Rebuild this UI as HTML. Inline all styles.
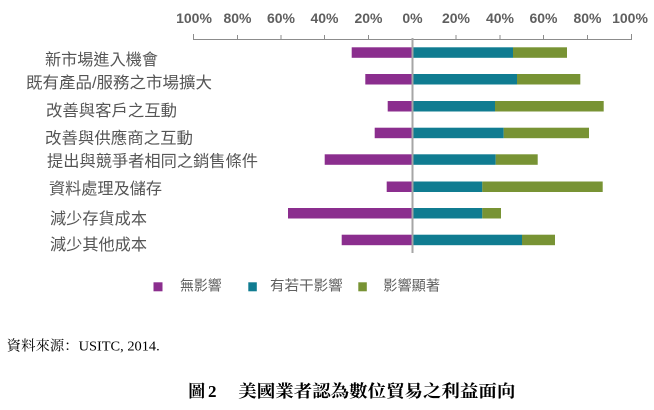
<!DOCTYPE html>
<html>
<head>
<meta charset="utf-8">
<style>
  html, body { margin: 0; padding: 0; background: #ffffff; }
  body { width: 654px; height: 410px; overflow: hidden; position: relative; }
  svg { position: absolute; left: 0; top: 0; }
  .tick { font-family: "Liberation Sans", "DejaVu Sans", sans-serif; font-size: 14px; font-weight: bold; fill: #5f5f5f; }
  .lab { font-family: "Liberation Sans", "Noto Sans CJK TC", "Noto Sans CJK JP", sans-serif; font-size: 16px; fill: #555555; }
  .leg { font-family: "Liberation Sans", "Noto Sans CJK TC", "Noto Sans CJK JP", sans-serif; font-size: 14px; fill: #606060; }
  .src { font-family: "Liberation Serif", "Noto Serif CJK SC", serif; font-size: 14px; fill: #000000; }
  .ttl { font-family: "Liberation Serif", "Noto Serif CJK SC", serif; font-size: 17px; font-weight: bold; fill: #000000; }
</style>
</head>
<body>
<svg width="654" height="410" viewBox="0 0 654 410" xmlns="http://www.w3.org/2000/svg">
  <!-- tick labels -->
  <g class="tick" text-anchor="middle">
    <text x="194" y="23">100%</text>
    <text x="237.5" y="23">80%</text>
    <text x="281" y="23">60%</text>
    <text x="324.5" y="23">40%</text>
    <text x="368.5" y="23">20%</text>
    <text x="412.5" y="23">0%</text>
    <text x="456" y="23">20%</text>
    <text x="500" y="23">40%</text>
    <text x="543.5" y="23">60%</text>
    <text x="587.5" y="23">80%</text>
    <text x="630" y="23">100%</text>
  </g>

  <!-- axis -->
  <g stroke="#8c8c8c" stroke-width="1" fill="none">
    <line x1="193" y1="39.5" x2="632" y2="39.5"/>
    <line x1="193.5" y1="34" x2="193.5" y2="40"/>
    <line x1="237.5" y1="35" x2="237.5" y2="40"/>
    <line x1="281" y1="35" x2="281" y2="40"/>
    <line x1="324.5" y1="35" x2="324.5" y2="40"/>
    <line x1="368.5" y1="35" x2="368.5" y2="40"/>
    <line x1="456" y1="35" x2="456" y2="40"/>
    <line x1="500" y1="35" x2="500" y2="40"/>
    <line x1="543.5" y1="35" x2="543.5" y2="40"/>
    <line x1="587.5" y1="35" x2="587.5" y2="40"/>
    <line x1="631.5" y1="34" x2="631.5" y2="40"/>
  </g>

  <!-- bars -->
  <g>
    <rect x="351.7" y="47.3" width="60.8" height="10.5" fill="#8b2e8e"/>
    <rect x="412.5" y="47.3" width="100.5" height="10.5" fill="#107c91"/>
    <rect x="513" y="47.3" width="54" height="10.5" fill="#789334"/>

    <rect x="365.3" y="74" width="47.2" height="10.5" fill="#8b2e8e"/>
    <rect x="412.5" y="74" width="104.5" height="10.5" fill="#107c91"/>
    <rect x="517" y="74" width="63.3" height="10.5" fill="#789334"/>

    <rect x="387.7" y="101" width="24.8" height="10.5" fill="#8b2e8e"/>
    <rect x="412.5" y="101" width="82.5" height="10.5" fill="#107c91"/>
    <rect x="495" y="101" width="108.7" height="10.5" fill="#789334"/>

    <rect x="374.7" y="127.7" width="37.8" height="10.5" fill="#8b2e8e"/>
    <rect x="412.5" y="127.7" width="91.2" height="10.5" fill="#107c91"/>
    <rect x="503.7" y="127.7" width="85.3" height="10.5" fill="#789334"/>

    <rect x="324.7" y="154.3" width="87.8" height="10.5" fill="#8b2e8e"/>
    <rect x="412.5" y="154.3" width="83.2" height="10.5" fill="#107c91"/>
    <rect x="495.7" y="154.3" width="42" height="10.5" fill="#789334"/>

    <rect x="386.7" y="181.5" width="25.8" height="10.5" fill="#8b2e8e"/>
    <rect x="412.5" y="181.5" width="69.8" height="10.5" fill="#107c91"/>
    <rect x="482.3" y="181.5" width="120.4" height="10.5" fill="#789334"/>

    <rect x="288" y="208" width="124.5" height="10.5" fill="#8b2e8e"/>
    <rect x="412.5" y="208" width="69.8" height="10.5" fill="#107c91"/>
    <rect x="482.3" y="208" width="18.7" height="10.5" fill="#789334"/>

    <rect x="341.7" y="234.7" width="70.8" height="10.5" fill="#8b2e8e"/>
    <rect x="412.5" y="234.7" width="109.5" height="10.5" fill="#107c91"/>
    <rect x="522" y="234.7" width="33" height="10.5" fill="#789334"/>
  </g>

  <!-- zero line -->
  <line x1="412.5" y1="38" x2="412.5" y2="253" stroke="#a6a6a6" stroke-width="2"/>

  <!-- category labels -->
  <g class="lab">
    <text x="45" y="65" textLength="113" lengthAdjust="spacingAndGlyphs">新市場進入機會</text>
    <text x="26" y="88" textLength="186" lengthAdjust="spacingAndGlyphs">既有產品/服務之市場擴大</text>
    <text x="46" y="116" textLength="131" lengthAdjust="spacingAndGlyphs">改善與客戶之互動</text>
    <text x="45" y="143.5" textLength="148" lengthAdjust="spacingAndGlyphs">改善與供應商之互動</text>
    <text x="47" y="166.5" textLength="211" lengthAdjust="spacingAndGlyphs">提出與競爭者相同之銷售條件</text>
    <text x="49" y="194" textLength="113" lengthAdjust="spacingAndGlyphs">資料處理及儲存</text>
    <text x="50" y="224" textLength="97" lengthAdjust="spacingAndGlyphs">減少存貨成本</text>
    <text x="50" y="250" textLength="97" lengthAdjust="spacingAndGlyphs">減少其他成本</text>
  </g>

  <!-- legend -->
  <rect x="153.5" y="282.3" width="9" height="9" fill="#8b2e8e"/>
  <rect x="248.3" y="282.3" width="8.5" height="9" fill="#107c91"/>
  <rect x="358.3" y="282.3" width="8.5" height="9" fill="#789334"/>
  <g class="leg">
    <text x="180" y="290.5" textLength="41.7" lengthAdjust="spacingAndGlyphs">無影響</text>
    <text x="270" y="290.5" textLength="72.7" lengthAdjust="spacingAndGlyphs">有若干影響</text>
    <text x="383.3" y="290.5" textLength="56.7" lengthAdjust="spacingAndGlyphs">影響顯著</text>
  </g>

  <!-- source -->
  <text class="src" x="6.7" y="350.5" textLength="153" lengthAdjust="spacingAndGlyphs">資料來源：USITC, 2014.</text>

  <!-- title -->
  <text class="ttl" x="188.3" y="397" textLength="17" lengthAdjust="spacingAndGlyphs">圖</text>
  <text class="ttl" x="208" y="397">2</text>
  <text class="ttl" x="238.3" y="397" textLength="277" lengthAdjust="spacingAndGlyphs">美國業者認為數位貿易之利益面向</text>
</svg>
</body>
</html>
